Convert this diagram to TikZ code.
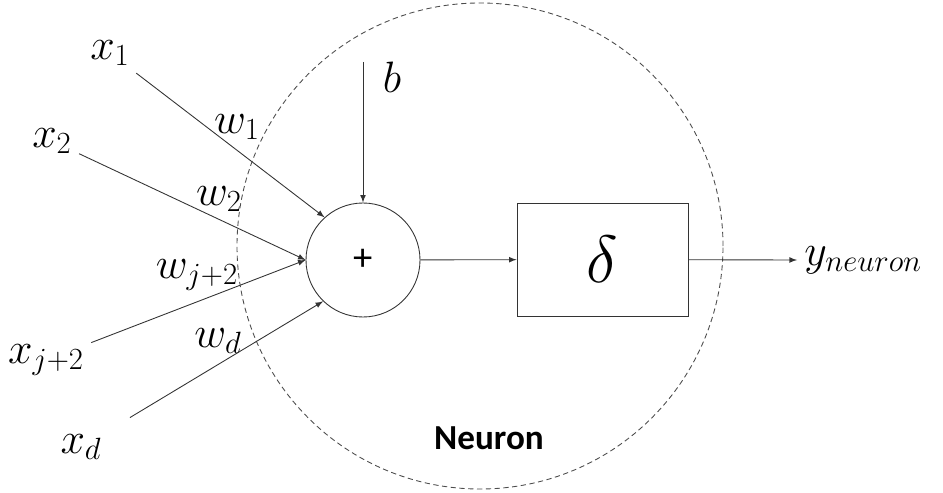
\RequirePackage{fix-cm}
\documentclass[tikz,border=0pt]{standalone}
\usepackage{fontspec}
\newfontfamily\neuronfont{Carlito}
\tikzset{
	lbl/.style={font=\fontsize{25}{29}\selectfont, inner sep=4pt},
	wire/.style={->, line width=0.5pt, black!80},
}
\begin{document}
\begin{tikzpicture}[>=latex]
	\useasboundingbox (0,0) rectangle (18.86,9.84);
	\draw[dashed, dash pattern=on 3pt off 2pt, black!70, line width=0.5pt] (9.6,4.92) circle (4.86);
	\node[draw, circle, minimum size=2.28cm, line width=0.5pt, black!80, text=black, font=\neuronfont\fontsize{22}{24}\selectfont] (sum) at (7.26,4.64) {+};
	\node[draw, rectangle, minimum width=3.42cm, minimum height=2.26cm, line width=0.5pt, black!80, text=black, font=\fontsize{38}{42}\selectfont] (act) at (12.05,4.65) {$\delta$};
	% inputs
	\node[lbl] (x1) at (2.2,8.78) {$x_1$};
	\node[lbl] (x2) at (1.04,7.02) {$x_2$};
	\node[lbl] (xj) at (0.92,2.64) {$x_{j+2}$};
	\node[lbl] (xd) at (1.62,0.9) {$x_d$};
	\node[lbl] (w1) at (4.74,7.3) {$w_1$};
	\node[lbl] (w2) at (4.38,5.86) {$w_2$};
	\node[lbl] (wj) at (3.94,4.34) {$w_{j+2}$};
	\node[lbl] (wd) at (4.36,3.02) {$w_d$};
	\draw[wire] (x1) -- (sum.132);
	\draw[wire] (x2) -- (sum.west);
	\draw[wire] (xj) -- (sum.west);
	\draw[wire, shorten <=14pt] (xd) -- (sum.226);
	% bias
	\coordinate (bin) at (7.26,8.6);
	\node[lbl] (b) at (7.84,8.3) {$b$};
	\draw[wire] (bin) -- (sum);
	% output
	\coordinate (out) at (15.94,4.64);
	\draw[wire] (sum) -- (act);
	\draw[wire] (act) -- (out);
	\node[lbl, right] (y) at (out) {$y_{neuron}$};
	\node[font=\neuronfont\bfseries\fontsize{20}{24}\selectfont] (lab) at (9.78,1.08) {Neuron};
\end{tikzpicture}
\end{document}
